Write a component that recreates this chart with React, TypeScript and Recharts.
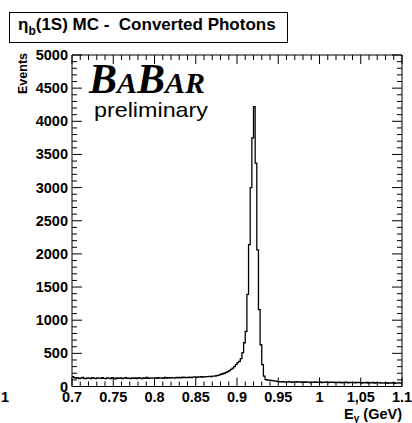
import React from 'react'
import { LineChart, Line, XAxis, YAxis } from 'recharts'

// eta_b(1S) MC, converted photons: photon energy histogram, 0.002 GeV bins from 0.7 GeV
const histLow = 0.7
const binWidth = 0.002
const counts = [
  150, 135, 128, 132, 120, 126, 138, 124, 118, 130,
  127, 121, 133, 125, 119, 131, 126, 122, 135, 124,
  118, 129, 126, 120, 132, 125, 117, 128, 123, 130,
  121, 127, 134, 122, 126, 119, 131, 124, 128, 120,
  133, 126, 121, 129, 124, 136, 123, 127, 131, 125,
  129, 122, 134, 127, 131, 124, 138, 128, 133, 126,
  135, 130, 127, 139, 132, 136, 129, 141, 134, 138,
  136, 142, 135, 140, 145, 139, 144, 141, 147, 143,
  146, 150, 148, 153, 151, 158, 156, 162, 168, 175,
  185, 192, 200, 212, 225, 240, 258, 278, 300, 330,
  360, 380, 420, 510, 660, 830, 1390, 2140, 3000, 3750,
  4220, 3370, 2060, 1160, 630, 330, 155, 105, 98, 95,
  92, 88, 85, 80, 76, 72, 70, 74, 68, 71,
  66, 72, 69, 64, 70, 67, 73, 65, 68, 62,
  69, 64, 71, 66, 60, 67, 63, 70, 61, 65,
  68, 59, 66, 62, 69, 58, 64, 61, 67, 57,
  63, 60, 66, 56, 62, 59, 64, 55, 61, 58,
  62, 54, 60, 57, 63, 53, 59, 56, 61, 52,
  58, 55, 60, 51, 57, 54, 59, 50, 56, 53,
  57, 49, 55, 52, 58, 48, 54, 51, 56, 50,
]

const xMajorTicks = [0.7, 0.75, 0.8, 0.85, 0.9, 0.95, 1, 1.05, 1.1]
const xTickLabels = ['0.7', '0.75', '0.8', '0.85', '0.9', '0.95', '1', '1,05', '1.1']
const yMajorTicks = [0, 500, 1000, 1500, 2000, 2500, 3000, 3500, 4000, 4500, 5000]
const yTickLabels = ['0', '500', '1000', '1500', '2000', '2500', '3000', '3500', '4000', '4500', '5000']

// minor ticks every 0.01 GeV and every 100 events
const xTicks: number[] = []
for (let i = 0; i <= 40; i++) xTicks.push(+(0.7 + 0.01 * i).toFixed(2))
const yTicks: number[] = []
for (let i = 0; i <= 50; i++) yTicks.push(i * 100)

const data = counts.map((n, i) => ({ e: +(histLow + i * binWidth).toFixed(4), n }))
data.push({ e: +(histLow + counts.length * binWidth).toFixed(4), n: counts[counts.length - 1] })

const sans = '"Liberation Sans", Arial, sans-serif'
const labelSize = 14.5

const majorIndex = (list: number[], v: number) => list.findIndex((t) => Math.abs(t - v) < 1e-6)

function BottomTick({ x, y, payload }: any) {
  const idx = majorIndex(xMajorTicks, payload.value)
  return (
    <g>
      <line x1={x} x2={x} y1={y} y2={y - (idx >= 0 ? 9 : 5)} stroke="#000" />
      {idx >= 0 && (
        <text x={x} y={y + 15.5} textAnchor="middle" fontFamily={sans} fontWeight="bold" fontSize={labelSize} fill="#000">
          {xTickLabels[idx]}
        </text>
      )}
    </g>
  )
}

function TopTick({ x, y, payload }: any) {
  const idx = majorIndex(xMajorTicks, payload.value)
  return <line x1={x} x2={x} y1={y} y2={y + (idx >= 0 ? 9 : 5)} stroke="#000" />
}

function LeftTick({ x, y, payload }: any) {
  const idx = majorIndex(yMajorTicks, payload.value)
  return (
    <g>
      <line x1={x} x2={x + (idx >= 0 ? 10 : 5)} y1={y} y2={y} stroke="#000" />
      {idx >= 0 && (
        <text x={x - 4} y={y + 5} textAnchor="end" fontFamily={sans} fontWeight="bold" fontSize={labelSize} fill="#000">
          {yTickLabels[idx]}
        </text>
      )}
    </g>
  )
}

function RightTick({ x, y, payload }: any) {
  const idx = majorIndex(yMajorTicks, payload.value)
  return <line x1={x} x2={x - (idx >= 0 ? 10 : 5)} y1={y} y2={y} stroke="#000" />
}

export default function App() {
  return (
    <div style={{ position: 'absolute', left: 0, top: 0, width: 412, height: 423, background: '#fff' }}>
      <LineChart width={412} height={423} data={data} margin={{ top: 54, right: 9, bottom: 0, left: 0 }}>
        <XAxis
          xAxisId="bottom"
          dataKey="e"
          type="number"
          domain={[0.7, 1.1]}
          allowDataOverflow
          ticks={xTicks}
          interval={0}
          height={36.5}
          tickSize={0}
          tickMargin={0}
          tickLine={false}
          axisLine={{ stroke: '#000' }}
          tick={<BottomTick />}
        />
        <XAxis
          xAxisId="top"
          orientation="top"
          dataKey="e"
          type="number"
          domain={[0.7, 1.1]}
          allowDataOverflow
          ticks={xTicks}
          interval={0}
          height={1}
          tickSize={0}
          tickMargin={0}
          tickLine={false}
          axisLine={{ stroke: '#000' }}
          tick={<TopTick />}
        />
        <YAxis
          yAxisId="left"
          type="number"
          domain={[0, 5000]}
          allowDataOverflow
          ticks={yTicks}
          interval={0}
          width={72}
          tickSize={0}
          tickMargin={0}
          tickLine={false}
          axisLine={{ stroke: '#000' }}
          tick={<LeftTick />}
        />
        <YAxis
          yAxisId="right"
          orientation="right"
          type="number"
          domain={[0, 5000]}
          allowDataOverflow
          ticks={yTicks}
          interval={0}
          width={1}
          tickSize={0}
          tickMargin={0}
          tickLine={false}
          axisLine={{ stroke: '#000' }}
          tick={<RightTick />}
        />
        <Line
          xAxisId="bottom"
          yAxisId="left"
          dataKey="n"
          type="stepAfter"
          stroke="#000"
          strokeWidth={1.3}
          dot={false}
          activeDot={false}
          isAnimationActive={false}
        />
      </LineChart>
      <svg
        width={412}
        height={423}
        style={{ position: 'absolute', left: 0, top: 0, pointerEvents: 'none' }}
      >
        <rect x={9.5} y={12.5} width={278} height={30} fill="#fff" stroke="#000" />
        <text x={18} y={30} fontFamily={sans} fontWeight="bold" fontSize={17} fill="#000" xmlSpace="preserve">
          <tspan>η</tspan>
          <tspan fontSize={12} dy={5}>b</tspan>
          <tspan dy={-5}>(1S) MC -  Converted Photons</tspan>
        </text>
        <text
          transform="translate(27,53) rotate(-90)"
          textAnchor="end"
          fontFamily={sans}
          fontWeight="bold"
          fontSize={12.5}
          fill="#000"
        >
          Events
        </text>
        <text x={402} y={419} textAnchor="end" fontFamily={sans} fontWeight="bold" fontSize={labelSize} fill="#000">
          <tspan>E</tspan>
          <tspan fontSize={10} dy={3}>γ</tspan>
          <tspan dy={-3}> (GeV)</tspan>
        </text>
        <text x={5} y={402} textAnchor="middle" fontFamily={sans} fontWeight="bold" fontSize={labelSize} fill="#000">
          1
        </text>
        <text x={89} y={93} fontFamily='"Liberation Serif", "Times New Roman", serif' fontStyle="italic" fontWeight="bold" fill="#000">
          <tspan fontSize={42}>B</tspan>
          <tspan fontSize={30}>A</tspan>
          <tspan fontSize={42}>B</tspan>
          <tspan fontSize={30}>AR</tspan>
        </text>
        <text x={94} y={117} fontFamily={sans} fontSize={21} fill="#000" textLength={114} lengthAdjust="spacingAndGlyphs">
          preliminary
        </text>
      </svg>
    </div>
  )
}
